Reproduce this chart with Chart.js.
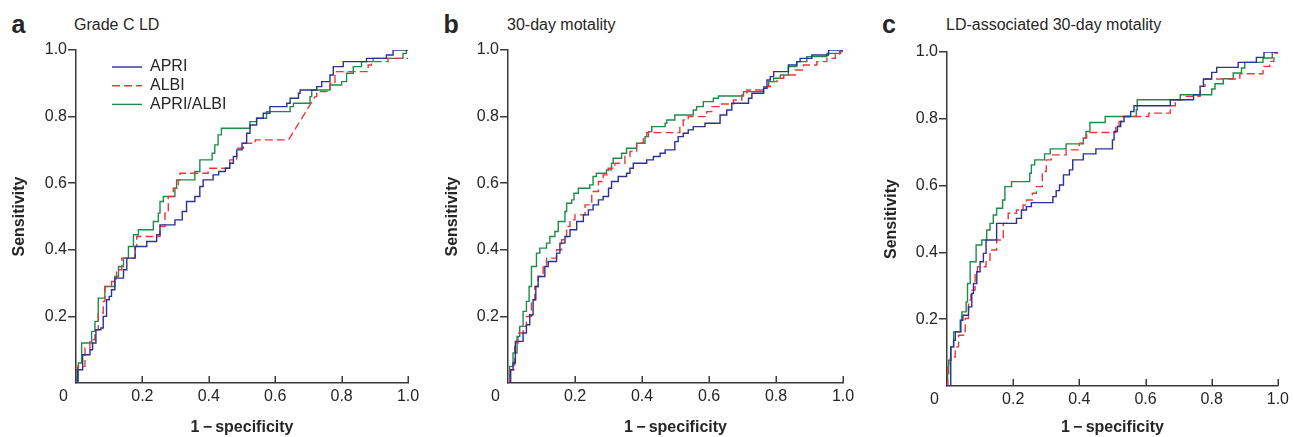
<!DOCTYPE html>
<html>
<head>
<meta charset="utf-8">
<script src="https://cdn.jsdelivr.net/npm/chart.js@4.4.0/dist/chart.umd.min.js"></script>
<style>
  body { margin: 0; background: #fff; width: 1293px; height: 437px; overflow: hidden; position: relative;
         font-family: "Liberation Sans", Arial, sans-serif; color: #262626; }
  .panel { position: absolute; top: 0; height: 437px; }
  .panel canvas { position: absolute; left: 0; top: 0; }
  .letter { position: absolute; top: 11.5px; font-size: 25px; line-height: 25px; font-weight: bold; }
  .title { position: absolute; top: 16.5px; font-size: 16px; line-height: 16px; white-space: nowrap; }
</style>
</head>
<body>
<div class="letter" style="left:11.5px">a</div>
<div class="title" style="left:74px">Grade C LD</div>
<div class="letter" style="left:443.5px">b</div>
<div class="title" style="left:507px">30-day motality</div>
<div class="letter" style="left:882px">c</div>
<div class="title" style="left:946px">LD-associated 30-day motality</div>

<div class="panel" style="left:0px;width:430px"><canvas id="chart-a" width="430" height="437"></canvas></div>
<div class="panel" style="left:430px;width:430px"><canvas id="chart-b" width="430" height="437"></canvas></div>
<div class="panel" style="left:860px;width:433px"><canvas id="chart-c" width="433" height="437"></canvas></div>

<script>
// Series names and tick values
const seriesNames = ['APRI', 'ALBI', 'APRI/ALBI'];
const xTickValues = [0, 0.2, 0.4, 0.6, 0.8, 1.0];

// ROC points: [1-specificity, sensitivity]
// a third element of 1 means the segment to that point is a diagonal (tied values)
const gradeC_apri = [[0,0],[0.004,0.04],[0.02,0.085],[0.042,0.1],[0.05,0.12],[0.06,0.16],[0.075,0.165],[0.082,0.2],[0.092,0.25],[0.1,0.26],[0.107,0.28],[0.117,0.315],[0.143,0.34],[0.153,0.375],[0.178,0.41],[0.213,0.425],[0.243,0.445],[0.253,0.475],[0.298,0.49],[0.32,0.515],[0.333,0.545],[0.358,0.56],[0.373,0.59],[0.383,0.61],[0.413,0.625],[0.43,0.635],[0.45,0.645],[0.463,0.66],[0.474,0.68],[0.484,0.7],[0.5,0.72],[0.514,0.75],[0.524,0.775],[0.544,0.795],[0.564,0.81],[0.584,0.83],[0.635,0.84],[0.645,0.855],[0.67,0.87],[0.675,0.88],[0.725,0.89],[0.74,0.905],[0.765,0.925],[0.775,0.95],[0.805,0.965],[0.875,0.975],[0.935,0.985],[0.955,1.0],[1,1]];
const gradeC_albi = [[0,0],[0.004,0.05],[0.027,0.105],[0.042,0.13],[0.057,0.16],[0.067,0.21],[0.082,0.245],[0.087,0.29],[0.107,0.305],[0.122,0.34],[0.138,0.375],[0.178,0.41],[0.183,0.44],[0.253,0.47],[0.268,0.51],[0.278,0.56],[0.293,0.585],[0.308,0.61],[0.313,0.63],[0.398,0.645],[0.463,0.67],[0.484,0.705],[0.504,0.72],[0.54,0.73],[0.64,0.73],[0.72,0.86,1],[0.725,0.875],[0.765,0.9],[0.78,0.935],[0.88,0.955],[0.89,0.965],[0.94,0.975],[1,0.975]];
const gradeC_combo = [[0,0],[0.007,0.06],[0.017,0.12],[0.047,0.155],[0.057,0.185],[0.067,0.255],[0.087,0.29],[0.117,0.32],[0.128,0.35],[0.143,0.375],[0.158,0.41],[0.173,0.445],[0.188,0.46],[0.233,0.485],[0.248,0.51],[0.253,0.545],[0.263,0.56],[0.298,0.585],[0.303,0.61],[0.358,0.635],[0.373,0.67],[0.41,0.69],[0.418,0.715],[0.428,0.745],[0.438,0.765],[0.524,0.785],[0.544,0.795],[0.574,0.815],[0.645,0.83],[0.655,0.84],[0.705,0.86],[0.71,0.88],[0.765,0.895],[0.8,0.905],[0.815,0.93],[0.835,0.95],[0.86,0.965],[0.895,0.975],[0.985,0.99],[0.995,1.0],[1,1]];

const mort_apri = [[0,0],[0.008,0.04],[0.015,0.06],[0.022,0.125],[0.045,0.15],[0.055,0.175],[0.065,0.205],[0.075,0.25],[0.083,0.29],[0.09,0.32],[0.11,0.35],[0.12,0.365],[0.145,0.39],[0.155,0.42],[0.17,0.44],[0.185,0.46],[0.205,0.485],[0.225,0.505],[0.24,0.52],[0.254,0.535],[0.27,0.55],[0.284,0.56],[0.3,0.585],[0.309,0.605],[0.329,0.62],[0.354,0.63],[0.364,0.645],[0.374,0.66],[0.414,0.67],[0.434,0.68],[0.454,0.69],[0.469,0.7],[0.498,0.725],[0.508,0.74],[0.523,0.75],[0.538,0.76],[0.553,0.77],[0.588,0.78],[0.633,0.805],[0.653,0.82],[0.668,0.84],[0.718,0.855],[0.728,0.87],[0.763,0.885],[0.773,0.91],[0.783,0.92],[0.793,0.935],[0.837,0.955],[0.862,0.965],[0.872,0.975],[0.907,0.985],[0.957,1.0],[1,1]];
const mort_albi = [[0,0],[0.005,0.04],[0.02,0.12],[0.03,0.15],[0.045,0.17],[0.055,0.2],[0.07,0.25],[0.08,0.29],[0.09,0.32],[0.105,0.35],[0.115,0.375],[0.145,0.4],[0.16,0.43],[0.175,0.47],[0.185,0.49],[0.2,0.505],[0.23,0.535],[0.25,0.575],[0.27,0.605],[0.284,0.625],[0.299,0.645],[0.319,0.66],[0.349,0.68],[0.364,0.695],[0.384,0.72],[0.404,0.74],[0.414,0.752],[0.513,0.77],[0.523,0.79],[0.538,0.8],[0.593,0.815],[0.608,0.83],[0.633,0.838],[0.673,0.85],[0.698,0.865],[0.713,0.88],[0.768,0.89],[0.783,0.905],[0.803,0.915],[0.823,0.925],[0.857,0.94],[0.882,0.955],[0.922,0.965],[0.952,0.975],[0.977,0.985],[0.99,0.995],[1,1]];
const mort_combo = [[0,0],[0.005,0.05],[0.015,0.09],[0.027,0.14],[0.035,0.17],[0.045,0.215],[0.055,0.245],[0.063,0.29],[0.07,0.35],[0.085,0.39],[0.095,0.405],[0.115,0.42],[0.125,0.44],[0.14,0.455],[0.15,0.485],[0.17,0.515],[0.175,0.54],[0.19,0.55],[0.197,0.57],[0.21,0.585],[0.244,0.595],[0.254,0.62],[0.264,0.63],[0.294,0.64],[0.309,0.66],[0.314,0.675],[0.339,0.69],[0.354,0.705],[0.384,0.72],[0.409,0.74],[0.419,0.755],[0.429,0.77],[0.469,0.78],[0.474,0.79],[0.498,0.805],[0.553,0.82],[0.563,0.83],[0.583,0.845],[0.613,0.855],[0.628,0.862],[0.703,0.875],[0.763,0.89],[0.778,0.905],[0.793,0.915],[0.813,0.925],[0.837,0.95],[0.862,0.965],[0.892,0.98],[0.952,0.99],[0.993,1.0],[1,1]];

const ldMort_apri = [[0,0],[0.01,0.057],[0.012,0.117],[0.02,0.137],[0.025,0.162],[0.042,0.197],[0.048,0.212],[0.065,0.237],[0.075,0.277],[0.08,0.307],[0.09,0.342],[0.1,0.372],[0.11,0.397],[0.118,0.437],[0.15,0.487],[0.21,0.502],[0.225,0.527],[0.24,0.537],[0.255,0.549],[0.32,0.567],[0.33,0.585],[0.34,0.602],[0.352,0.632],[0.37,0.647],[0.38,0.677],[0.412,0.695],[0.45,0.71],[0.5,0.737],[0.505,0.762],[0.515,0.777],[0.525,0.792],[0.535,0.807],[0.555,0.822],[0.565,0.839],[0.675,0.857],[0.745,0.872],[0.765,0.897],[0.775,0.919],[0.8,0.939],[0.815,0.954],[0.88,0.969],[0.935,0.984],[0.958,1.0],[1,1]];
const ldMort_albi = [[0,0],[0.002,0.057],[0.01,0.087],[0.025,0.117],[0.035,0.152],[0.055,0.202],[0.065,0.257],[0.072,0.287],[0.085,0.337],[0.092,0.357],[0.118,0.377],[0.13,0.407],[0.15,0.437],[0.17,0.487],[0.185,0.517],[0.21,0.527],[0.23,0.542],[0.24,0.557],[0.258,0.577],[0.27,0.597],[0.288,0.642],[0.3,0.677],[0.315,0.692],[0.36,0.707],[0.4,0.727],[0.412,0.742],[0.422,0.759],[0.51,0.777],[0.52,0.792],[0.53,0.807],[0.61,0.817],[0.675,0.839],[0.69,0.857],[0.72,0.867],[0.765,0.897],[0.78,0.919],[0.885,0.935],[0.955,0.957],[0.975,0.972],[0.988,0.997],[1,1]];
const ldMort_combo = [[0,0],[0.002,0.037],[0.005,0.077],[0.012,0.117],[0.02,0.162],[0.04,0.197],[0.045,0.222],[0.058,0.252],[0.062,0.307],[0.07,0.372],[0.088,0.422],[0.105,0.437],[0.12,0.467],[0.13,0.487],[0.14,0.512],[0.15,0.532],[0.168,0.557],[0.175,0.597],[0.195,0.612],[0.25,0.637],[0.255,0.662],[0.265,0.677],[0.295,0.695],[0.312,0.71],[0.36,0.725],[0.412,0.742],[0.42,0.762],[0.432,0.789],[0.478,0.807],[0.572,0.827],[0.575,0.857],[0.705,0.872],[0.8,0.889],[0.81,0.905],[0.835,0.92],[0.865,0.937],[0.89,0.952],[0.9,0.969],[0.955,0.982],[0.983,1.0],[1,1]];

// styles
const lineColors = ['#2d3192', '#e8383d', '#1e8b4a'];
const lineDashes = [[], [8, 4], []];
const axisColor = '#3a3a3a';
const textColor = '#262626';
const fontFamily = '"Liberation Sans", Arial, sans-serif';

// turn ROC points into a staircase (up then across)
function staircase(pts) {
  const out = [];
  pts.forEach((p, i) => {
    if (i > 0 && !p[2]) out.push({ x: p[0], y: out[out.length - 1].y });
    out.push({ x: p[0], y: p[1] });
  });
  return out;
}

// x ticks point up into the plot, and the "0" sits in the corner
const innerXTicks = {
  id: 'innerXTicks',
  afterDraw(chart) {
    const { ctx, chartArea } = chart;
    const x = chart.scales.x;
    ctx.save();
    ctx.strokeStyle = axisColor;
    ctx.lineWidth = 1.5;
    x.ticks.forEach(t => {
      if (t.value === 0) return;
      const px = Math.round(x.getPixelForValue(t.value)) + 0.25;
      ctx.beginPath();
      ctx.moveTo(px, chartArea.bottom);
      ctx.lineTo(px, chartArea.bottom - 7);
      ctx.stroke();
    });
    ctx.fillStyle = textColor;
    ctx.font = '16px ' + fontFamily;
    ctx.textAlign = 'right';
    ctx.textBaseline = 'middle';
    ctx.fillText('0', chartArea.left - 8, chartArea.bottom + 14);
    ctx.restore();
  }
};

// legend drawn inside the plot of panel a
const insideLegend = {
  id: 'insideLegend',
  afterDraw(chart, args, opts) {
    if (!opts.show) return;
    const { ctx } = chart;
    ctx.save();
    chart.data.datasets.forEach((ds, i) => {
      const y = opts.y + i * opts.rowGap;
      ctx.strokeStyle = ds.borderColor;
      ctx.lineWidth = ds.borderWidth;
      ctx.setLineDash(ds.borderDash || []);
      ctx.beginPath();
      ctx.moveTo(opts.x, y);
      ctx.lineTo(opts.x + 30, y);
      ctx.stroke();
      ctx.setLineDash([]);
      ctx.fillStyle = textColor;
      ctx.font = '16px ' + fontFamily;
      ctx.textAlign = 'left';
      ctx.textBaseline = 'middle';
      ctx.fillText(ds.label, opts.x + 38, y);
    });
    ctx.restore();
  }
};

function makePanel(id, sets, box) {
  const ctx = document.getElementById(id).getContext('2d');
  const H = 437;
  return new Chart(ctx, {
    type: 'line',
    data: {
      datasets: sets.map((pts, i) => ({
        label: seriesNames[i],
        data: staircase(pts),
        borderColor: lineColors[i],
        borderDash: lineDashes[i],
        borderWidth: 1.4,
        pointRadius: 0,
        tension: 0,
        fill: false
      }))
    },
    options: {
      responsive: false,
      animation: false,
      layout: { padding: { left: 0, right: box.w - box.right, top: box.top, bottom: 0 } },
      plugins: {
        legend: { display: false },
        tooltip: { enabled: false },
        insideLegend: box.legend || { show: false }
      },
      scales: {
        x: {
          type: 'linear', min: 0, max: 1,
          afterBuildTicks: s => { s.ticks = xTickValues.map(v => ({ value: v })); },
          afterFit: s => { s.height = H - box.bottom; },
          ticks: {
            callback: v => (v === 0 ? '' : v.toFixed(1)),
            color: textColor, font: { family: fontFamily, size: 16 },
            padding: 4, maxRotation: 0, autoSkip: false
          },
          grid: { drawOnChartArea: false, drawTicks: false },
          border: { display: true, color: axisColor, width: 1.5 },
          title: {
            display: true, text: '1\u2009\u2212\u2009specificity', color: textColor,
            font: { family: fontFamily, size: 16, weight: 'bold' },
            padding: { top: 0, bottom: 0 }
          }
        },
        y: {
          type: 'linear', min: 0, max: 1,
          afterFit: s => { s.width = box.left; },
          ticks: {
            stepSize: 0.2,
            callback: v => (v === 0 ? '' : v.toFixed(1)),
            color: textColor, font: { family: fontFamily, size: 16 },
            padding: 1
          },
          grid: {
            drawOnChartArea: false, drawTicks: true, tickLength: 8, lineWidth: 1.5,
            color: c => (c.tick && c.tick.value === 0 ? 'rgba(0,0,0,0)' : axisColor)
          },
          border: { display: true, color: axisColor, width: 1.5 },
          title: {
            display: true, text: 'Sensitivity', color: textColor,
            font: { family: fontFamily, size: 16, weight: 'bold' },
            padding: { top: box.yTitlePad, bottom: 0 }
          }
        }
      }
    },
    plugins: [innerXTicks, insideLegend]
  });
}

window.onload = function () {
  makePanel('chart-a', [gradeC_apri, gradeC_albi, gradeC_combo],
    { w: 430, left: 76, right: 408, top: 50, bottom: 383, yTitlePad: 10.4,
      legend: { show: true, x: 112, y: 67, rowGap: 18.7 } });
  makePanel('chart-b', [mort_apri, mort_albi, mort_combo],
    { w: 430, left: 78, right: 413, top: 50, bottom: 383, yTitlePad: 13.4 });
  makePanel('chart-c', [ldMort_apri, ldMort_albi, ldMort_combo],
    { w: 433, left: 87, right: 420, top: 52, bottom: 386, yTitlePad: 22.4 });
};
</script>
</body>
</html>
